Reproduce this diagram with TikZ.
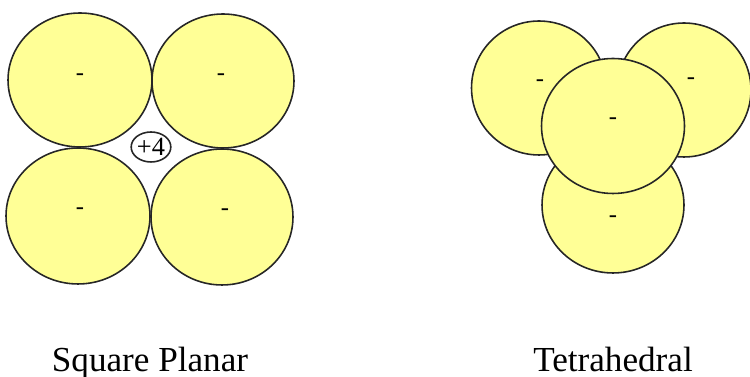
\documentclass[tikz,border=0pt]{standalone}
\usepackage{fontspec}
\setmainfont{Liberation Serif}
\newfontfamily\timesfont{Liberation Serif}
\usetikzlibrary{shapes.geometric}
\definecolor{ionyellow}{RGB}{255,255,150}

\begin{document}
\begin{tikzpicture}[
  x=0.02cm, y=-0.02cm,
  anion/.style={ellipse, draw=black!85, fill=ionyellow, line width=0.9pt,
                inner sep=0pt},
  cation/.style={ellipse, draw=black!85, fill=white, line width=0.9pt,
                 inner sep=0pt, font=\timesfont\fontsize{15}{17}\selectfont},
  minus/.style={font=\timesfont\fontsize{14}{16}\selectfont, inner sep=0pt},
  caption/.style={font=\timesfont\fontsize{20}{24}\selectfont, anchor=base,
                  inner sep=0pt},
]
\useasboundingbox (0,0) rectangle (750,377);
% Square planar -- four anions round the central ion
\node[anion, minimum width=2.88cm, minimum height=2.68cm] (sqtl) at (80,80) {};
\node[anion, minimum width=2.84cm, minimum height=2.68cm] (sqtr) at (223,81) {};
\node[anion, minimum width=2.88cm, minimum height=2.72cm] (sqbl) at (78,216) {};
\node[anion, minimum width=2.84cm, minimum height=2.72cm] (sqbr) at (222,217) {};
\node[cation, minimum width=0.74cm, minimum height=0.6cm] (center) at (151,147) {+4};
\node[minus] (msqtl) at (80,77) {-};
\node[minus] (msqtr) at (221,77) {-};
\node[minus] (msqbl) at (80,211) {-};
\node[minus] (msqbr) at (225,212) {-};
% Tetrahedral -- back pair, bottom, then front
\node[anion, minimum width=2.70cm, minimum height=2.68cm] (tback) at (539,88) {};
\node[anion, minimum width=2.68cm, minimum height=2.68cm] (tright) at (684,90) {};
\node[anion, minimum width=2.84cm, minimum height=2.72cm] (tbot) at (613,205) {};
\node[anion, minimum width=2.86cm, minimum height=2.70cm] (tfront) at (613,126) {};
\node[minus] (mtback) at (540,83) {-};
\node[minus] (mtright) at (691,81) {-};
\node[minus] (mtfront) at (613,121) {-};
\node[minus] (mtbot) at (613,219) {-};
% captions
\node[caption] (sqname) at (150,372) {Square Planar};
\node[caption] (tename) at (613,372) {Tetrahedral};
\end{tikzpicture}
\end{document}
